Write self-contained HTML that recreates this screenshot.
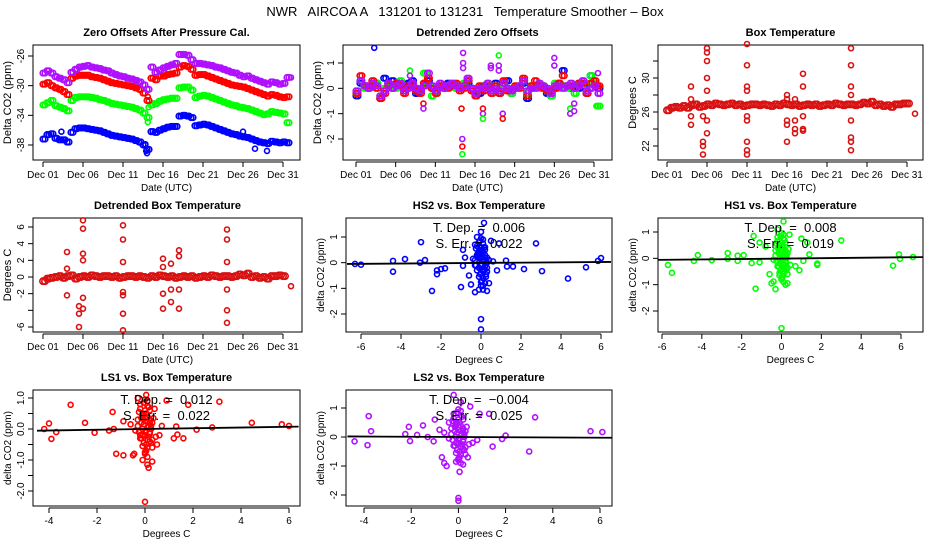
<!DOCTYPE html>
<html><head><meta charset="utf-8"><style>
html,body{margin:0;padding:0;background:#fff;}
svg{display:block;font-family:"Liberation Sans",sans-serif;}
</style></head><body>
<svg id="chart" width="936" height="540" viewBox="0 0 936 540" xmlns="http://www.w3.org/2000/svg">
<text x="465" y="16" text-anchor="middle" font-size="13" style="white-space:pre">NWR   AIRCOA A   131201 to 131231   Temperature Smoother – Box</text>
</svg>
<script>
const zoPurple=[-28.3,-28.0,-28.3,-28.8,-29.0,-29.2,-29.6,-28.2,-27.8,-27.5,-27.4,-27.3,-27.5,-27.6,-27.7,-27.9,-28.0,-28.3,-28.5,-28.7,-28.8,-29.0,-29.1,-29.3,-29.5,-29.9,-30.5,-27.5,-28.2,-27.9,-27.6,-27.4,-27.2,-27.0,-25.8,-25.8,-25.9,-26.5,-27.0,-27.0,-27.1,-27.2,-27.3,-27.5,-27.6,-27.8,-28.0,-28.2,-28.3,-28.6,-28.8,-28.7,-29.0,-29.2,-29.4,-29.6,-29.8,-29.5,-29.6,-29.8,-29.7,-28.9];
const zoRed=[-29.8,-29.6,-30.0,-30.3,-30.5,-30.8,-31.2,-29.0,-28.7,-28.6,-28.6,-28.6,-28.8,-28.9,-29.0,-29.2,-29.4,-29.6,-29.7,-29.8,-29.9,-30.0,-30.1,-30.3,-30.5,-31.0,-32.0,-29.0,-29.2,-28.7,-28.7,-28.5,-28.4,-28.3,-27.5,-27.3,-27.4,-27.8,-28.6,-28.5,-28.5,-28.7,-28.9,-29.1,-29.3,-29.5,-29.7,-29.9,-30.0,-30.1,-30.2,-30.4,-30.6,-30.8,-31.0,-31.2,-31.4,-31.2,-31.3,-31.5,-31.6,-31.5];
const zoGreen=[-32.6,-32.3,-32.0,-32.7,-32.9,-33.1,-33.4,-32.0,-31.6,-31.5,-31.5,-31.5,-31.6,-31.7,-31.9,-32.0,-32.2,-32.4,-32.5,-32.6,-32.7,-32.8,-32.9,-33.1,-33.3,-33.7,-34.3,-32.6,-32.4,-32.1,-31.9,-31.8,-31.7,-31.7,-30.3,-30.2,-30.2,-30.6,-31.6,-31.4,-31.3,-31.4,-31.6,-31.8,-32.0,-32.2,-32.4,-32.6,-32.7,-32.9,-33.0,-33.1,-33.3,-33.5,-33.7,-33.9,-33.8,-33.5,-33.6,-33.7,-33.8,-35.0];
const zoBlue=[-37.2,-36.6,-36.5,-37.1,-37.3,-37.3,-37.6,-36.3,-35.8,-35.7,-35.7,-35.8,-35.9,-36.0,-36.1,-36.3,-36.5,-36.7,-36.8,-36.9,-37.0,-37.1,-37.2,-37.4,-37.6,-38.0,-38.6,-36.2,-36.3,-36.0,-35.8,-35.6,-35.5,-35.5,-34.1,-34.0,-34.1,-34.3,-35.4,-35.3,-35.2,-35.3,-35.5,-35.7,-35.9,-36.1,-36.3,-36.5,-36.6,-36.8,-36.9,-37.0,-37.2,-37.4,-37.6,-37.7,-37.8,-37.5,-37.6,-37.7,-37.6,-37.7];
const zoOutDay=[3.3,13.8,13.9,14.0,14.1,14.1,26.0,27.5,29.0,26.0,32.0,14.2];
const zoOutVal=[-36.2,-37.9,-38.8,-39.1,-34.9,-31.5,-36.2,-38.5,-38.8,-32.9,-28.9,-32.9];
const zoOutCol=["b","b","b","b","g","r","b","b","b","g","p","g"];
const dtPurple=[-0.1,0.3,0.1,0.0,0.2,0.1,-0.3,-0.1,0.2,0.0,0.1,0.2,-0.1,0.0,0.2,0.0,-0.1,0.1,0.6,0.1,-0.1,0.2,0.0,0.1,0.2,0.1,0.0,0.1,0.4,0.0,-0.2,0.0,0.0,0.2,-0.1,0.0,-0.1,0.2,0.0,-0.1,0.0,0.1,0.3,-0.1,0.0,0.0,0.2,0.1,0.0,-0.2,0.1,0.1,0.0,0.1,0.2,0.0,0.1,0.3,-0.1,0.0,0.1,-0.2];
const dtRed=[-0.2,0.5,0.1,0.1,0.3,0.0,-0.4,-0.2,0.1,0.0,0.2,0.1,-0.2,0.1,0.1,-0.1,-0.2,0.2,0.4,0.0,-0.2,0.1,0.1,0.0,0.1,0.2,-0.1,0.0,0.3,-0.1,-0.3,0.1,-0.1,0.1,-0.2,0.1,-0.2,0.3,-0.1,-0.1,0.1,0.0,0.4,-0.3,0.1,0.3,0.1,0.0,-0.1,-0.1,0.0,0.2,0.5,0.1,0.1,0.0,0.2,0.2,-0.2,0.2,0.3,0.1];
const dtGreen=[-0.2,0.3,0.0,0.1,0.1,0.2,-0.3,0.0,0.1,0.1,0.0,0.3,-0.1,0.0,0.2,-0.1,0.0,0.6,0.1,-0.3,-0.2,0.1,0.0,0.1,0.2,0.0,0.1,0.2,0.3,-0.1,-0.2,0.1,0.0,0.2,-0.2,0.1,-0.1,0.1,0.0,-0.2,0.1,0.1,0.3,-0.2,0.1,0.1,0.0,0.1,-0.1,-0.3,0.2,0.0,0.1,0.0,0.1,-0.2,0.2,0.2,0.1,0.5,0.2,-0.7];
const dtBlue=[-0.3,0.2,0.1,0.0,0.1,0.2,-0.4,0.4,0.2,0.3,0.1,0.1,0.0,0.2,0.3,-0.2,-0.1,0.2,0.3,0.0,-0.1,0.1,0.0,0.2,0.1,0.1,0.0,0.1,0.2,0.0,-0.3,-0.2,0.1,0.1,-0.1,0.2,-0.2,0.2,0.3,-0.2,0.0,0.1,0.2,-0.4,0.0,0.1,0.1,0.1,-0.2,-0.3,0.0,0.2,0.7,0.1,0.0,0.1,0.0,0.1,-0.2,0.5,0.1,0.0];
const dtOutDay=[3.3,14.4,14.4,14.4,14.5,14.5,14.5,14.3,17.0,17.0,17.0,18.0,18.0,19.0,19.0,19.0,19.5,19.5,26.0,26.0,28.0,28.0,28.5,28.5,31.5,31.3,9.5,9.5,7.8,7.8];
const dtOutVal=[1.6,-2.6,-2.3,-2.0,1.4,1.0,0.8,-0.8,-0.8,-1.0,-1.2,0.8,0.9,1.3,0.9,0.7,-1.0,-1.2,0.9,1.2,-0.8,-1.0,-0.6,-0.9,0.6,-0.7,-0.6,-0.8,0.7,0.5];
const dtOutCol=["b","g","r","p","p","p","p","r","r","p","g","p","p","g","p","p","p","r","p","p","g","p","p","p","p","g","r","p","g","p"];
const boxT=[26.2,26.5,26.6,26.5,26.7,26.5,26.8,26.9,26.6,26.7,26.9,26.8,27.0,26.9,26.8,26.9,27.0,26.8,26.9,26.7,26.8,26.9,26.9,26.8,26.9,26.8,26.7,26.9,26.8,27.0,26.9,26.8,26.9,26.7,26.8,26.9,26.8,26.9,26.7,26.8,26.9,26.8,27.0,26.9,26.8,26.9,26.9,26.8,26.9,27.1,27.0,27.2,26.8,26.9,26.7,26.8,26.6,26.9,26.9,27.0,27.0];
const boxSpDay=[4,4,4,4,5.5,5.5,5.5,5.5,6,6,6,6,6,6,6,11,11,11,11,11,11,11,11,11,16,16,16,16,16,17,17,17,17,18,18,18,18,18,24,24,24,24,24,24,24,24,32];
const boxSpVal=[29.0,27.5,25.5,24.5,22.5,22.0,21.0,25.5,33.5,33.0,32.0,30.0,28.5,25.0,23.5,34.0,31.5,29.0,28.5,25.0,22.5,21.5,21.0,25.5,28.0,27.5,25.0,24.5,22.5,27.5,25.0,24.0,23.5,30.5,29.0,25.5,24.0,23.8,33.5,31.5,29.0,28.0,25.0,23.0,22.5,21.5,25.8];
const dbT=[-0.5,-0.2,-0.1,0.0,0.1,-0.1,0.1,0.2,-0.2,0.0,0.1,0.0,0.2,0.1,0.0,0.1,0.1,0.0,0.1,-0.1,0.0,0.1,0.1,0.0,0.1,0.0,-0.1,0.1,0.0,0.2,0.1,0.0,0.1,-0.1,0.0,0.1,0.0,0.1,-0.1,0.0,0.1,0.0,0.2,0.1,0.0,0.1,0.1,0.0,0.1,0.3,0.2,0.4,0.0,0.1,-0.1,0.0,-0.2,0.1,0.1,0.2,0.1];
const dbSpDay=[4,4,4,5.5,5.5,5.5,6,6,6,6,6,6,11,11,11,11,11,11,11,16,16,16,16,17,17,17,18,18,18,18,24,24,24,24,24,24,32];
const dbSpVal=[3.0,1.0,-2.2,-4.4,-6.0,-3.5,6.8,5.8,2.8,2.0,-2.5,-3.8,6.2,4.5,1.8,-1.8,-2.2,-4.4,-6.4,2.2,1.2,-2.0,-3.8,1.6,-1.5,-3.0,3.2,2.5,-1.5,-3.8,5.7,4.5,1.8,-1.5,-4.0,-5.5,-1.1];
const hs2X=[-6.3,-6.0,-4.4,-4.4,-3.8,-3.0,-3.05,-2.8,-2.45,-2.2,-2.2,-2.0,-1.8,-1.0,-0.9,-0.9,-0.8,-0.6,-0.5,-0.3,-0.3,0.0,0.0,0.15,0.3,0.4,0.5,0.9,0.8,1.25,1.3,1.6,2.15,2.75,3.05,4.35,5.25,5.85,6.0,-0.2,-0.1,0.0,0.1,0.2,0.3,-0.1,0.0,0.1,0.2,-0.2,0.0,0.1,0.3,0.4,-0.3,0.0,0.2,-0.1,0.1,0.0,0.05,0.15,-0.05,0.25,0.6,-0.4];
const hs2Y=[-0.05,-0.08,0.07,-0.35,0.14,0.8,0.0,0.1,-1.1,-0.3,-0.45,-0.25,-0.22,-0.95,-0.12,0.5,0.2,-0.5,-0.85,-1.15,0.7,-2.6,-2.2,1.55,-1.1,-0.8,0.85,0.75,-0.3,0.08,-0.15,-0.15,-0.25,0.75,-0.33,-0.62,-0.18,0.07,0.18,1.0,0.8,0.6,0.4,0.2,0.0,-0.2,-0.4,-0.6,-0.8,0.3,1.2,0.9,-0.2,0.1,-0.1,-0.9,0.5,-1.05,-1.05,0.2,-0.3,0.6,0.45,-0.55,0.05,0.15];
const hs1X=[-5.7,-5.5,-4.4,-4.2,-3.5,-2.7,-2.7,-2.2,-2.2,-1.9,-1.5,-1.4,-1.3,-1.1,-1.1,-0.8,-0.6,-0.5,-0.4,-0.3,-0.2,-0.1,0.0,0.1,0.2,0.3,0.4,0.7,0.9,1.0,1.1,1.3,1.4,1.8,1.8,3.0,5.6,5.9,5.95,6.6,-0.2,0.0,0.1,0.2,-0.1,0.0,0.2,0.3,-0.3,0.1,0.0,-0.1,0.2,0.15,0.05,-0.15,0.25,0.35,-0.4,0.45];
const hs1Y=[-0.25,-0.55,-0.1,0.12,-0.07,0.2,-0.02,0.1,-0.1,0.12,-0.18,0.85,-1.15,0.6,-0.15,0.45,-0.6,-0.95,-0.88,-1.17,1.1,-0.65,-2.65,1.4,-1.0,-0.95,0.9,-0.3,-0.45,0.75,-0.1,0.6,0.15,-0.2,-0.25,0.68,-0.28,0.15,-0.02,0.05,0.8,0.6,0.4,0.2,0.0,-0.2,-0.4,-0.6,0.3,0.9,-0.8,0.5,-0.1,0.7,-0.5,-0.3,0.1,0.35,-0.05,-0.25];
const ls1X=[-4.2,-4.0,-3.9,-3.7,-3.1,-2.5,-2.1,-1.5,-1.35,-1.3,-1.2,-0.9,-0.9,-0.5,-0.45,-0.3,-0.2,-0.1,0.0,0.05,0.1,0.15,0.3,0.4,0.5,0.7,0.9,1.2,1.3,1.35,1.6,1.8,2.15,2.8,3.1,4.45,5.7,6.0,-0.2,0.0,0.1,0.2,-0.1,0.0,0.2,0.3,-0.3,0.1,0.0,-0.1,0.2,0.15,0.05,-0.15,0.25,0.35,-0.4,0.45,-0.6,0.6];
const ls1Y=[0.0,0.18,-0.32,-0.1,0.78,0.2,-0.12,-0.05,0.55,0.0,-0.8,0.25,-0.85,-0.85,-0.8,1.0,-0.2,-1.0,-2.35,1.1,-1.15,-1.25,-1.05,0.65,-0.5,0.1,0.92,-0.3,0.08,-0.18,-0.3,0.78,-0.02,0.05,0.88,0.2,0.15,0.1,0.8,0.6,0.4,0.2,0.0,-0.2,-0.4,-0.6,0.3,0.9,-0.8,0.5,-0.1,0.7,-0.5,-0.3,0.1,0.35,-0.05,-0.25,0.15,-0.2];
const ls2X=[-4.4,-3.85,-3.8,-3.7,-2.25,-2.1,-2.05,-1.75,-1.5,-1.3,-1.05,-1.0,-0.7,-0.6,-0.5,-0.4,-0.2,-0.1,0.0,0.0,0.05,0.1,0.2,0.4,0.5,0.9,1.3,1.45,1.85,2.0,3.0,3.25,5.6,6.1,-0.2,0.0,0.1,0.2,-0.1,0.0,0.2,0.3,-0.3,0.1,0.0,-0.1,0.2,0.15,0.05,-0.15,0.25,0.35,-0.4,0.45,-0.6,0.6,-0.8,0.8];
const ls2Y=[-0.15,-0.28,0.72,0.2,0.1,0.35,-0.14,0.07,0.4,0.0,-0.15,0.6,-0.7,-0.9,-1.0,0.5,1.45,-0.85,-2.1,-2.2,-1.2,1.2,-0.95,-0.7,1.05,0.8,0.8,-0.33,-0.07,0.05,-0.5,0.68,0.2,0.17,0.8,0.6,0.4,0.2,0.0,-0.2,-0.4,-0.6,0.3,0.9,-0.8,0.5,-0.1,0.7,-0.5,-0.3,0.1,0.35,-0.05,-0.25,0.15,-0.2,0.25,-0.1];
// dense central clusters shared by all scatter panels (x, y)
const coreX=[-0.25,-0.15,-0.05,0.05,0.15,0.25,-0.2,-0.1,0.0,0.1,0.2,0.3,-0.3,-0.1,0.0,0.1,0.2,-0.2,0.0,0.1,0.05,-0.05,0.15,-0.15,0.25,0.0,0.1,-0.1,0.2,-0.25,0.3,0.0,-0.05,0.05,0.12,-0.12];
const coreY=[0.55,0.35,0.15,-0.05,-0.25,-0.45,0.65,0.45,0.25,0.05,-0.15,-0.35,0.1,-0.55,-0.75,0.75,0.3,-0.3,0.95,-0.9,0.5,-0.45,0.1,0.2,0.0,-0.1,-0.6,-0.2,0.6,-0.1,0.2,0.35,0.85,-0.7,-0.35,0.4];
const regSlope=[0.006,0.008,0.012,-0.004];
const regIntercept=[-0.01,-0.01,0.0,0.0];
const regSE=[0.022,0.019,0.022,0.025];
const dayTicks=[1,6,11,16,21,26,31];
const dayLabels=["Dec 01","Dec 06","Dec 11","Dec 16","Dec 21","Dec 26","Dec 31"];

const NS="http://www.w3.org/2000/svg";
const svg=document.getElementById("chart");
function el(tag,attrs,parent,text){const e=document.createElementNS(NS,tag);for(const k in attrs)e.setAttribute(k,attrs[k]);if(text!==undefined)e.textContent=text;(parent||svg).appendChild(e);return e;}
function lin(v0,p0,v1,p1){return v=>p0+(v-v0)*(p1-p0)/(v1-v0);}
const COL={b:"#0000ff",g:"#00ff00",r:"#ff0000",p:"#b010ff",rb:"#d81010"};

function panel(c){
  const g=el("g",{});
  
  
  const box=el("rect",{x:c.bx0,y:c.by0,width:c.bx1-c.bx0,height:c.by1-c.by0,fill:"none",stroke:"#000","stroke-width":1},g);
  
  
  const t=el("text",{x:(c.bx0+c.bx1)/2,y:c.by0-9,"text-anchor":"middle","font-size":11,"font-weight":"bold"},g,c.title);
  
  
  const ax=el("g",{},g);
  
  
  const ya=c.by1+2;
  el("line",{x1:c.sx(c.xt[0]),x2:c.sx(c.xt[c.xt.length-1]),y1:ya,y2:ya,stroke:"#000"},ax);
  c.xt.forEach((v,i)=>{const x=c.sx(v);el("line",{x1:x,x2:x,y1:ya,y2:ya+5,stroke:"#000"},ax);
    const tl=el("text",{x:x,y:ya+16,"text-anchor":"middle","font-size":10},ax,c.xl[i]);
    
    });
  const xl=el("text",{x:(c.bx0+c.bx1)/2,y:ya+29,"text-anchor":"middle","font-size":10},g,c.xlab);
  
  
  const ay=el("g",{},g);
  
  
  const xa=c.bx0;
  c.yt.forEach((v,i)=>{const y=c.sy(v);el("line",{x1:xa-5,x2:xa,y1:y,y2:y,stroke:"#000"},ay);
    if(c.yl[i]!==""){const tl=el("text",{x:xa-9,y:y,"text-anchor":"middle","font-size":10,transform:`rotate(-90 ${xa-9} ${y})`},ay,c.yl[i]);
    
    }});
  const yc=(c.by0+c.by1)/2, yx=xa-22;
  const yl=el("text",{x:yx,y:yc,"text-anchor":"middle","font-size":c.ylabSize||11,transform:`rotate(-90 ${yx} ${yc})`},g,c.ylab);
  
  
  return g;
}
function pt(g,x,y,col,r,name){const e=el("circle",{cx:x,cy:y,r:r||2.5,fill:"none",stroke:COL[col],"stroke-width":1.6},g);
  
  return e;}

{const sx=lin(1,43,31,283), sy=lin(-26,56,-38,145);
 const g=panel({name:"zero-offsets-panel",bx0:33,bx1:300,by0:45,by1:160,sx,sy,xt:dayTicks,xl:dayLabels,yt:[-26,-30,-34,-38],yl:["-26","-30","-34","-38"],title:"Zero Offsets After Pressure Cal.",xlab:"Date (UTC)",ylab:"Delta CO2 (ppm)"});
 [[zoBlue,"b"],[zoGreen,"g"],[zoRed,"r"],[zoPurple,"p"]].forEach(([arr,c])=>arr.forEach((v,i)=>{pt(g,sx(1+i*0.5),sy(v),c,2.8);pt(g,sx(1.25+i*0.5),sy(v),c,2.8);}));
 zoOutDay.forEach((d,i)=>pt(g,sx(d),sy(zoOutVal[i]),zoOutCol[i],2.5,'outlier-point'));}
{const sx=lin(1,356,31,594), sy=lin(1,63,-2,139);
 const g=panel({name:"detrended-zero-offsets-panel",bx0:343,bx1:612,by0:45,by1:160,sx,sy,xt:dayTicks,xl:dayLabels,yt:[1,0,-1,-2],yl:["1","0","-1","-2"],title:"Detrended Zero Offsets",xlab:"Date (UTC)",ylab:"Delta CO2 (ppm)"});
 [[dtBlue,"b"],[dtGreen,"g"],[dtRed,"r"],[dtPurple,"p"]].forEach(([arr,c])=>arr.forEach((v,i)=>{pt(g,sx(1+i*0.5),sy(v),c,2.8);pt(g,sx(1.25+i*0.5),sy(v),c,2.8);}));
 dtOutDay.forEach((d,i)=>pt(g,sx(d),sy(dtOutVal[i]),dtOutCol[i],2.5,'outlier-point'));}
{const sx=lin(1,667,31,907), sy=lin(22,146,30,78);
 const g=panel({name:"box-temperature-panel",bx0:658,bx1:923,by0:45,by1:160,sx,sy,xt:dayTicks,xl:dayLabels,yt:[22,24,26,28,30,32],yl:["22","","26","","30",""],title:"Box Temperature",xlab:"Date (UTC)",ylab:"Degrees C"});
 boxT.forEach((v,i)=>{pt(g,sx(1+i*0.5),sy(v),"rb",3.2);pt(g,sx(1.25+i*0.5),sy(v),"rb",3.2);});
 boxSpDay.forEach((d,i)=>pt(g,sx(d),sy(boxSpVal[i]),"rb",2.5,'spike-point'));}
{const sx=lin(1,43,31,283), sy=lin(6,227,-6,327);
 const g=panel({name:"detrended-box-temperature-panel",bx0:33,bx1:302,by0:218,by1:332,sx,sy,xt:dayTicks,xl:dayLabels,yt:[6,4,2,0,-2,-4,-6],yl:["6","4","2","0","-2","","-6"],title:"Detrended Box Temperature",xlab:"Date (UTC)",ylab:"Degrees C"});
 dbT.forEach((v,i)=>{pt(g,sx(1+i*0.5),sy(v),"rb",3.2);pt(g,sx(1.25+i*0.5),sy(v),"rb",3.2);});
 dbSpDay.forEach((d,i)=>pt(g,sx(d),sy(dbSpVal[i]),"rb",2.5,'spike-point'));}
function scatter(c,xs,ys,col,k){
  const g=panel(c);
  xs.forEach((x,i)=>pt(g,c.sx(x),c.sy(ys[i]),col,2.5));
  coreX.forEach((x,i)=>pt(g,c.sx(x),c.sy(coreY[i]),col,2.5,'cluster-point'));
  const xa=c.xmin,xb=c.xmax;
  const ln=el("line",{x1:c.sx(xa),y1:c.sy(regIntercept[k]+regSlope[k]*xa),x2:c.sx(xb),y2:c.sy(regIntercept[k]+regSlope[k]*xb),stroke:"#000","stroke-width":1.8},g);
  
  
  const cx=(c.bx0+c.bx1)/2;
  const t1=el("text",{x:cx,y:c.by0+14,"text-anchor":"middle","font-size":13,style:"white-space:pre"},g,"T. Dep. =  "+regSlope[k].toFixed(3).replace("-","−"));
  
  
  const t2=el("text",{x:cx,y:c.by0+30,"text-anchor":"middle","font-size":13,style:"white-space:pre"},g,"S. Err. =  "+regSE[k].toFixed(3));
  
  
}
scatter({name:"hs2-vs-box-temperature-panel",bx0:346,bx1:612,by0:218,by1:332,sx:lin(-6,361,6,601),sy:lin(1,237,-2,314),xmin:-6.7,xmax:6.5,xt:[-6,-4,-2,0,2,4,6],xl:["-6","-4","-2","0","2","4","6"],yt:[1,0,-1,-2],yl:["1","0","-1","-2"],title:"HS2 vs. Box Temperature",xlab:"Degrees C",ylab:"delta CO2 (ppm)",ylabSize:10},hs2X,hs2Y,"b",0);
scatter({name:"hs1-vs-box-temperature-panel",bx0:658,bx1:923,by0:218,by1:332,sx:lin(-6,662,6,901),sy:lin(1,232,-2,311),xmin:-6.2,xmax:7.1,xt:[-6,-4,-2,0,2,4,6],xl:["-6","-4","-2","0","2","4","6"],yt:[1,0,-1,-2],yl:["1","0","-1","-2"],title:"HS1 vs. Box Temperature",xlab:"Degrees C",ylab:"delta CO2 (ppm)",ylabSize:10},hs1X,hs1Y,"g",1);
scatter({name:"ls1-vs-box-temperature-panel",bx0:33,bx1:300,by0:390,by1:506,sx:lin(-4,49,6,289),sy:lin(1,398,-2,491),xmin:-4.5,xmax:6.4,xt:[-4,-2,0,2,4,6],xl:["-4","-2","0","2","4","6"],yt:[1,0.5,0,-0.5,-1,-1.5,-2],yl:["1.0","","0.0","","-1.0","","-2.0"],title:"LS1 vs. Box Temperature",xlab:"Degrees C",ylab:"delta CO2 (ppm)",ylabSize:10},ls1X,ls1Y,"r",2);
scatter({name:"ls2-vs-box-temperature-panel",bx0:346,bx1:612,by0:390,by1:506,sx:lin(-4,364,6,600),sy:lin(1,408,-2,495),xmin:-4.7,xmax:6.5,xt:[-4,-2,0,2,4,6],xl:["-4","-2","0","2","4","6"],yt:[1,0,-1,-2],yl:["1","0","-1","-2"],title:"LS2 vs. Box Temperature",xlab:"Degrees C",ylab:"delta CO2 (ppm)",ylabSize:10},ls2X,ls2Y,"p",3);
</script>
</body></html>
